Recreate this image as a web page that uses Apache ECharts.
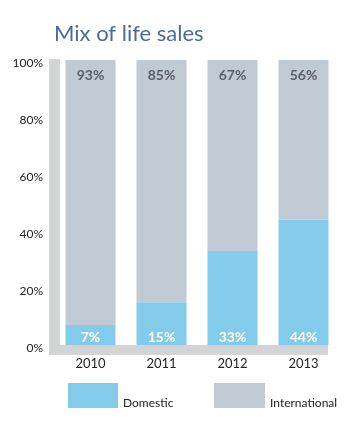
<!DOCTYPE html>
<html><head><meta charset="utf-8">
<script src="https://cdn.jsdelivr.net/npm/echarts@6/dist/echarts.min.js"></script>
<style>html,body{margin:0;padding:0;background:#fff}#c{width:359px;height:432px}</style>
</head><body><div id="c"></div>
<script>
var years = ['2010', '2011', '2012', '2013'];
var domestic = [7, 15, 33, 44];
var international = [93, 85, 67, 56];
var yTicks = [0, 20, 40, 60, 80, 100];

var FONT = 'Lato, "Open Sans", sans-serif';
var chart = echarts.init(document.getElementById('c'));
var legText = {fontFamily: FONT, fontSize: 12, color: '#222',
  rich: {a: {fontFamily: FONT, fontSize: 12, color: '#222', padding: [16, 0, 0, 0]}}};
chart.setOption({
  animation: false,
  title: {
    text: 'Mix of life sales', left: 49, top: 18,
    textStyle: {color: '#4b6b99', fontSize: 22, fontWeight: 'normal', fontFamily: FONT}
  },
  graphic: [
    {type: 'rect', shape: {x: 49, y: 59, width: 11, height: 296}, style: {fill: '#d3d4d6'}, z: 0},
    {type: 'rect', shape: {x: 49, y: 345, width: 279, height: 10}, style: {fill: '#d3d4d6'}, z: 0}
  ],
  legend: [
    {data: ['Domestic'], left: 68, top: 383, padding: 0, itemWidth: 50, itemHeight: 25, icon: 'rect',
     formatter: '{a|{name}}', textStyle: legText},
    {data: ['International'], left: 214, top: 383, padding: 0, itemWidth: 51, itemHeight: 25, icon: 'rect',
     formatter: '{a|{name}}', textStyle: legText}
  ],
  grid: {left: 55, right: 20, top: 60, bottom: 87},
  xAxis: {
    type: 'category', data: years,
    axisLine: {show: false}, axisTick: {show: false},
    axisLabel: {margin: 12, fontFamily: FONT, fontSize: 13, color: '#222'}
  },
  yAxis: {
    type: 'value', min: 0, max: 100, interval: 20,
    splitLine: {show: false}, axisLine: {show: false}, axisTick: {show: false},
    axisLabel: {
      margin: 12, fontFamily: FONT, fontSize: 12, color: '#222',
      rich: {a: {fontFamily: FONT, fontSize: 12, color: '#222', padding: [6, 0, 0, 0]}},
      formatter: function (v) { return yTicks.indexOf(v) >= 0 ? '{a|' + v + '%}' : ''; }
    }
  },
  series: [
    {name: 'Domestic', type: 'bar', stack: 'a', data: domestic, barWidth: 50,
     itemStyle: {color: '#83cbea'},
     label: {show: true, position: 'insideBottom', distance: 1, color: '#fff', fontWeight: 'bold',
             fontFamily: FONT, fontSize: 14, formatter: '{c}%'}},
    {name: 'International', type: 'bar', stack: 'a', data: international, barWidth: 50,
     itemStyle: {color: '#bfcad4'},
     label: {show: true, position: 'insideTop', distance: 8, color: '#5b5f66', fontWeight: 'bold',
             fontFamily: FONT, fontSize: 14, formatter: '{c}%'}}
  ]
});
</script></body></html>
